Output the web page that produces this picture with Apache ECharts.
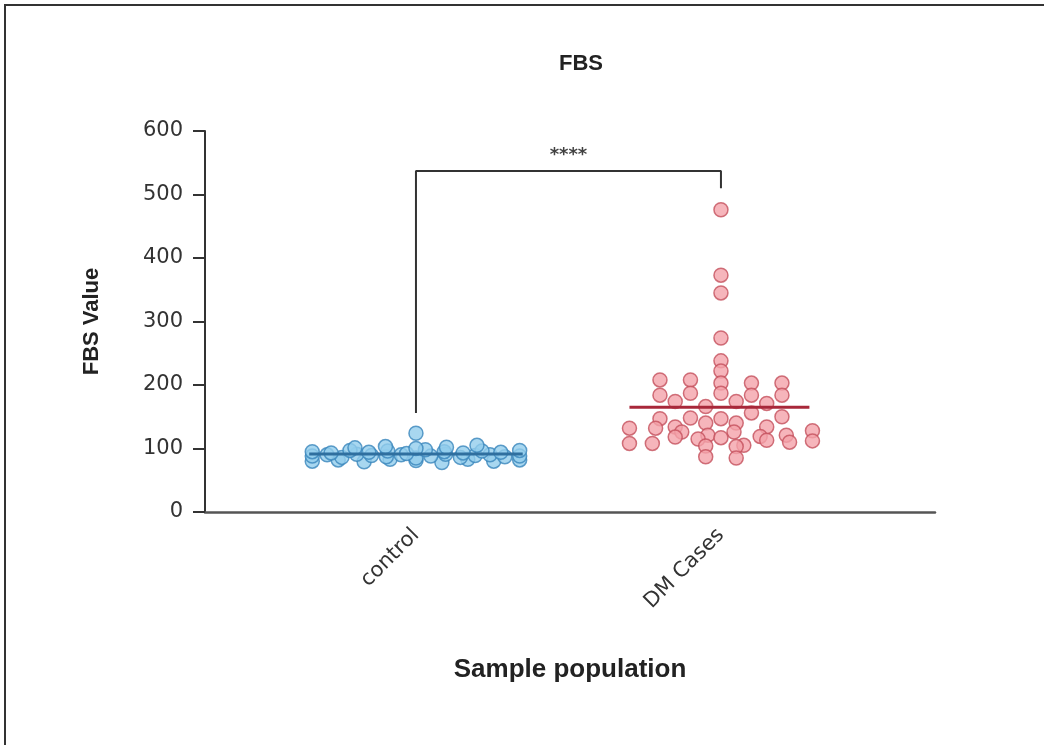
<!DOCTYPE html>
<html>
<head>
<meta charset="utf-8">
<script src="https://cdn.jsdelivr.net/npm/echarts@6/dist/echarts.min.js"></script>
<style>
	html, body { margin: 0; padding: 0; background: #fff; }
	#chart { width: 1044px; height: 745px; }
</style>
</head>
<body>
<div id="chart"></div>
<script>
const categories = ['control', 'DM Cases'];

// values, listed roughly left to right inside each row
const controlValues = [
	80, 82, 79, 83, 81, 78, 83, 80, 82,
	88, 90, 86, 91, 89, 87, 90, 85, 88, 91, 86, 89, 90, 87, 88,
	95, 93, 97, 94, 96, 92, 98, 95, 93, 96, 94, 97,
	101, 103, 100, 102, 105,
	124
];
const dmValues = [
	476, 373, 345, 274, 238, 222,
	208, 208, 203, 203, 203,
	184, 187, 187, 184, 184,
	174, 166, 174, 171,
	147, 148, 147, 156, 150,
	134, 140, 140, 134,
	132, 132, 126, 121, 126, 119, 121, 128,
	108, 108, 118, 115, 117, 105, 113, 110, 112,
	104, 103,
	87, 85
];

// significance bracket (value levels) and its label
const bracketTop = 537;
const bracketLeftEnd = 156;
const bracketRightEnd = 510;
const starLevel = 562;
const starText = '****';

const yMin = 0, yMax = 600, yStep = 100;

// GraphPad-like row layout: values are binned into rows, each row spread around the category centre
function rowLayout(values, center, binSize, maxStep, maxHalf) {
	const rows = new Map();
	values.forEach(v => {
		const k = Math.round(v / binSize);
		if (!rows.has(k)) rows.set(k, []);
		rows.get(k).push(v);
	});
	const pts = [];
	rows.forEach(row => {
		const n = row.length;
		const step = n > 1 ? Math.min(maxStep, 2 * maxHalf / (n - 1)) : 0;
		row.forEach((v, i) => pts.push([center + (i - (n - 1) / 2) * step, v]));
	});
	return pts;
}

const mean = arr => arr.reduce((a, b) => a + b, 0) / arr.length;

const controlPts = rowLayout(controlValues, 1, 8, 0.1, 0.34);
const dmPts = rowLayout(dmValues, 2, 14, 0.1, 0.3);
const controlMean = mean(controlValues);
const dmMean = mean(dmValues);

const chart = echarts.init(document.getElementById('chart'), null, {renderer: 'canvas'});

chart.setOption({
	animation: false,
	backgroundColor: '#fff',
	title: {
		text: 'FBS',
		left: 576,
		top: 48,
		textAlign: 'center',
		textStyle: {
			fontFamily: 'Liberation Sans',
			fontWeight: 'bold',
			fontSize: 22,
			color: '#222'
		}
	},
	graphic: [{
		type: 'polyline',
		shape: {points: [[5, 745], [5, 5], [1044, 5]]},
		style: {stroke: '#333', lineWidth: 2, fill: null}
	}],
	grid: {
		left: 205,
		right: 109,
		top: 131,
		bottom: 233
	},
	xAxis: {
		type: 'value',
		min: 0.3083,
		max: 2.7018,
		name: 'Sample population',
		nameLocation: 'middle',
		nameGap: 145,
		nameTextStyle: {
			fontFamily: 'Liberation Sans',
			fontWeight: 'bold',
			fontSize: 26,
			color: '#222'
		},
		splitLine: {show: false},
		axisTick: {show: false},
		axisLine: {lineStyle: {color: '#555', width: 2.5}},
		axisLabel: {
			customValues: [1, 2],
			formatter: v => categories[Math.round(v) - 1],
			rotate: 45,
			margin: 20,
			fontFamily: 'DejaVu Sans',
			fontSize: 21,
			color: '#333'
		}
	},
	yAxis: {
		type: 'value',
		min: yMin,
		max: yMax,
		interval: yStep,
		name: 'FBS Value',
		nameLocation: 'middle',
		nameGap: 102,
		nameRotate: 90,
		nameTextStyle: {
			fontFamily: 'Liberation Sans',
			fontWeight: 'bold',
			fontSize: 22,
			color: '#222'
		},
		splitLine: {show: false},
		axisLine: {show: true, lineStyle: {color: '#333', width: 2}},
		axisTick: {show: true, inside: false, length: 12, lineStyle: {color: '#333', width: 2}},
		axisLabel: {
			margin: 22,
			fontFamily: 'DejaVu Sans',
			fontSize: 21,
			color: '#333'
		}
	},
	series: [
		{
			name: categories[0],
			type: 'scatter',
			data: controlPts,
			symbolSize: 14,
			itemStyle: {color: '#92cdec', borderColor: '#3a86bb', borderWidth: 1.5},
			z: 2
		},
		{
			name: categories[1],
			type: 'scatter',
			data: dmPts,
			symbolSize: 14,
			itemStyle: {color: '#f4a3aa', borderColor: '#c4505c', borderWidth: 1.5},
			z: 2
		},
		{
			name: 'control mean',
			type: 'line',
			data: [[1 - 0.35, controlMean], [1 + 0.35, controlMean]],
			symbol: 'none',
			lineStyle: {color: '#2f6f9f', width: 3},
			z: 3
		},
		{
			name: 'DM mean',
			type: 'line',
			data: [[2 - 0.3, dmMean], [2 + 0.29, dmMean]],
			symbol: 'none',
			lineStyle: {color: '#a8283a', width: 3},
			z: 3
		},
		{
			name: 'bracket',
			type: 'line',
			data: [[1, bracketLeftEnd], [1, bracketTop], [2, bracketTop], [2, bracketRightEnd]],
			symbol: 'none',
			lineStyle: {color: '#333', width: 2},
			z: 3
		},
		{
			name: 'stars',
			type: 'scatter',
			data: [[1.5, starLevel]],
			symbolSize: 1,
			itemStyle: {color: 'rgba(0,0,0,0)'},
			label: {
				show: true,
				position: 'inside',
				formatter: starText,
				fontFamily: 'DejaVu Sans',
				fontWeight: 'bold',
				fontSize: 18,
				color: '#111'
			},
			z: 3
		}
	]
});
</script>
</body>
</html>
